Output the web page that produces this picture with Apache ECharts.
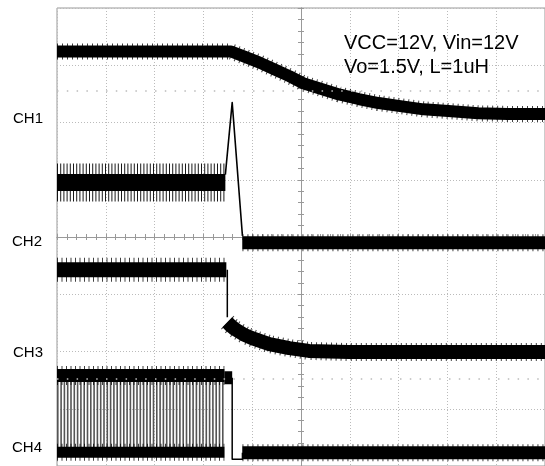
<!DOCTYPE html>
<html><head><meta charset="utf-8">
<script src="https://cdn.jsdelivr.net/npm/echarts@6/dist/echarts.min.js"></script>
<style>html,body{margin:0;padding:0;background:#fff;overflow:hidden}#c{width:545px;height:466px}</style>
</head><body><div id="c"></div>
<script>
// x in horizontal divisions (-5..5), y in vertical divisions (-4..4)
const ch1Trace = [[-5,3.24],[-1.43,3.24],[-1.16,3.15],[-0.86,3.05],[-0.55,2.93],[-0.24,2.81],[0.06,2.68],[0.37,2.60],[0.78,2.49],[1.18,2.41],[1.59,2.34],[2.0,2.29],[2.51,2.23],[3.02,2.20],[3.63,2.16],[4.24,2.15],[5,2.15]];
const ch2Before = [[-5,0.95],[-1.55,0.95]];
const ch2Spike = [[-1.55,1.09],[-1.41,2.35],[-1.20,0.02]];
const ch2After = [[-1.20,-0.10],[5,-0.10]];
const ch3Before = [[-5,-0.57],[-1.53,-0.57]];
const ch3Drop = [[-1.51,-0.57],[-1.51,-1.40]];
const ch3After = [[-1.51,-1.49],[-1.45,-1.54],[-1.37,-1.60],[-1.16,-1.71],[-0.96,-1.78],[-0.65,-1.87],[-0.24,-1.94],[0.16,-1.99],[0.98,-2.01],[5,-2.01]];
const ch4High = [[-5,-2.42],[-1.57,-2.42]];
const ch4Low = [[-5,-3.76],[-1.57,-3.76]];
const ch4Switching = [[-5,-3.09],[-1.57,-3.09]];
const ch4Block = [[-1.57,-2.46],[-1.41,-2.46]];
const ch4Edge = [[-1.41,-2.46],[-1.41,-3.88],[-1.20,-3.88],[-1.20,-3.77]];
const ch4After = [[-1.20,-3.77],[5,-3.77]];
const cursorRows = [2.55, -2.48];
const channelNames = ['CH1','CH2','CH3','CH4'];
const noteLines = ['VCC=12V, Vin=12V', 'Vo=1.5V, L=1uH'];

const chart = echarts.init(document.getElementById('c'), null, {renderer:'canvas'});
function trace(data, width, opt) {
  opt = opt || {};
  return {type:'line', data:data, showSymbol:false, symbol:'none', silent:true, animation:false,
    z: opt.z || 3,
    lineStyle:{color: opt.color || '#000', width: width, type: opt.dash || 'solid', cap: 'butt', join:'round', opacity: opt.opacity == null ? 1 : opt.opacity}};
}
const series = [
  {type:'line', data:[], silent:true, animation:false,
   markLine:{silent:true, symbol:'none', label:{show:false},
     lineStyle:{color:'#bbb', width:1.5, type:[1.5,8.3]},
     data: cursorRows.map(v => ({yAxis:v}))}},
  // CH1
  trace(ch1Trace, 16, {dash:[1,4], opacity:0.75}),
  trace(ch1Trace, 12),
  // CH2
  trace(ch2Before, 38, {dash:[1,2.2], opacity:0.9}),
  trace(ch2Before, 17),
  trace(ch2Spike, 1.6),
  trace(ch2After, 17, {dash:[1,4], opacity:0.75}),
  trace(ch2After, 13),
  // CH3
  trace(ch3Before, 24, {dash:[1,3.5], opacity:0.75}),
  trace(ch3Before, 15),
  trace(ch3Drop, 1.5),
  trace(ch3After, 18, {dash:[1,4], opacity:0.75}),
  trace(ch3After, 14),
  // CH4
  trace(ch4Switching, 78, {dash:[1.6,1.7], color:'#555', z:2}),
  trace(ch4High, 19, {dash:[1,3.5], opacity:0.75}),
  trace(ch4High, 13),
  trace(ch4Low, 17, {dash:[1,3.5], opacity:0.75}),
  trace(ch4Low, 11),
  trace(ch4Block, 13),
  trace(ch4Edge, 1.5),
  trace(ch4After, 17, {dash:[1,4], opacity:0.75}),
  trace(ch4After, 13)
];
const splitStyle = {show:true, lineStyle:{color:'#bbb', width:1, type:[1,2]}};
function xAx(pos, split) {
  return {type:'value', min:-5, max:5, interval:1, position:pos, axisLine:{show:true, onZero:true, lineStyle:{color:'#999'}},
     axisTick:{show:true, length:3, lineStyle:{color:'#999'}}, minorTick:{show:true, splitNumber:5, length:3, lineStyle:{color:'#999'}},
     axisLabel:{show:false}, splitLine: split ? splitStyle : {show:false}};
}
function yAx(pos, split) {
  return {type:'value', min:-4, max:4, interval:1, position:pos, axisLine:{show:true, onZero:true, lineStyle:{color:'#999'}},
     axisTick:{show:true, length:3, lineStyle:{color:'#999'}}, minorTick:{show:true, splitNumber:5, length:3, lineStyle:{color:'#999'}},
     axisLabel:{show:false}, splitLine: split ? splitStyle : {show:false}};
}
const labelFont = '15px "Liberation Sans", Arial, sans-serif';
const noteFont = '20px "Liberation Sans", Arial, sans-serif';
const option = {
  backgroundColor:'#fff',
  animation:false,
  grid:{left:57, top:8, width:490, height:462, show:true, borderColor:'#999', borderWidth:1, backgroundColor:'#fff'},
  xAxis:[xAx('bottom', true), xAx('top', false)],
  yAxis:[yAx('left', true), yAx('right', false)],
  graphic:[
    {type:'text', x:13, y:118.5, style:{text:channelNames[0], font:labelFont, fill:'#000', verticalAlign:'middle'}},
    {type:'text', x:12, y:242, style:{text:channelNames[1], font:labelFont, fill:'#000', verticalAlign:'middle'}},
    {type:'text', x:13, y:352.5, style:{text:channelNames[2], font:labelFont, fill:'#000', verticalAlign:'middle'}},
    {type:'text', x:12, y:447.5, style:{text:channelNames[3], font:labelFont, fill:'#000', verticalAlign:'middle'}},
    {type:'text', x:344, y:43, z:10, style:{text:noteLines[0], font:noteFont, fill:'#000', verticalAlign:'middle'}},
    {type:'text', x:344, y:67.5, z:10, style:{text:noteLines[1], font:noteFont, fill:'#000', verticalAlign:'middle'}}
  ],
  series: series
};
chart.setOption(option);
</script>
</body></html>
